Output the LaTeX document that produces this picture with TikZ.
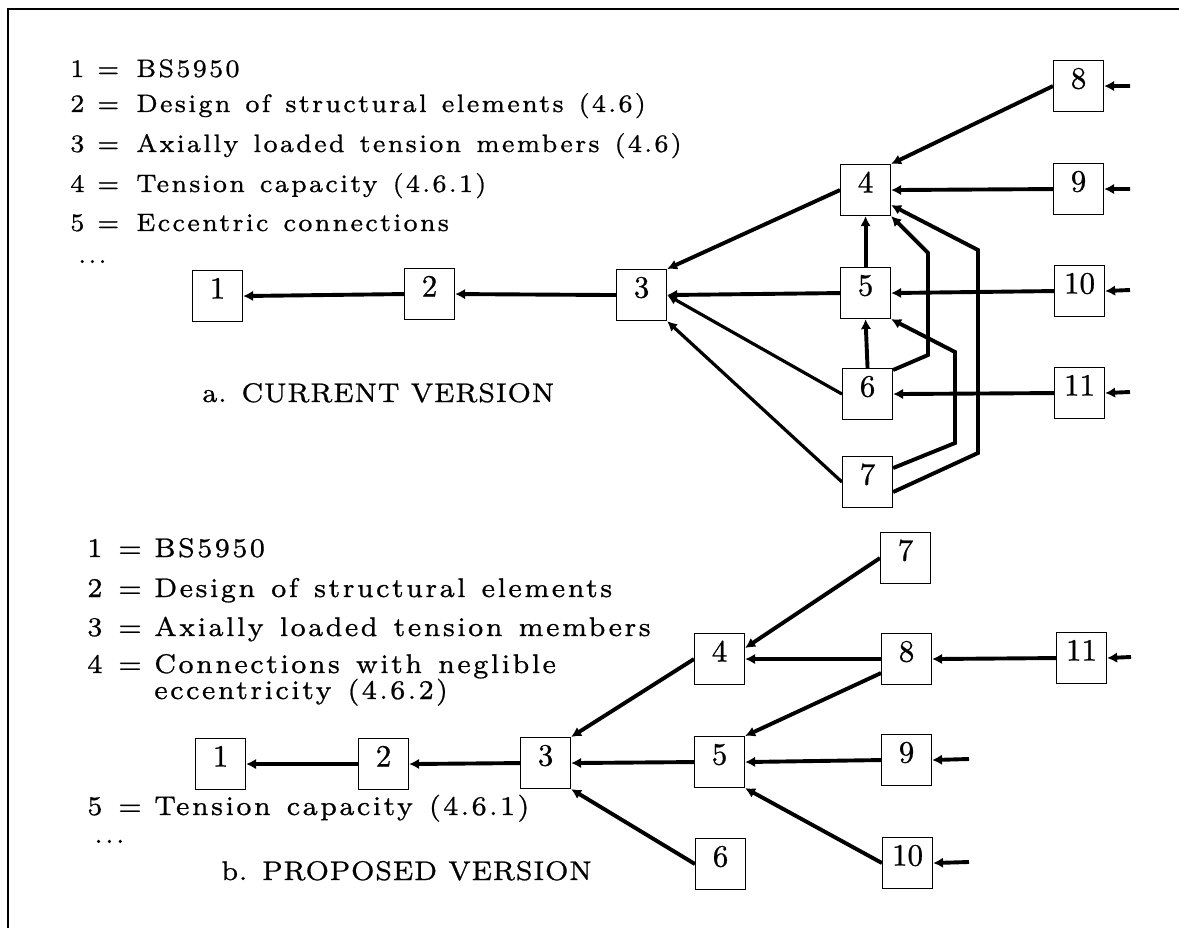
\documentclass[tikz,border=0pt]{standalone}
\usepackage{fontspec}
\newfontfamily\legfont{lmroman7-regular.otf}[LetterSpace=8,WordSpace=1.26,FakeBold=0.8]
\newfontfamily\capfont{lmroman7-regular.otf}[LetterSpace=2,FakeBold=0.8]
\newfontfamily\numfont{lmroman10-regular.otf}[FakeBold=0.8]
\newcommand\eqA[1]{\makebox[27pt][l]{#1}\makebox[39pt][l]{=}}
\newcommand\eqB[1]{\makebox[31pt][l]{#1}\makebox[36pt][l]{=}}
\usetikzlibrary{arrows.meta,calc}
\tikzset{
  box/.style={draw, line width=1.1pt, inner sep=0pt, minimum width=50pt,
    text height=28pt, text depth=23pt, anchor=north west,
    font=\numfont\fontsize{31}{34}\selectfont},
  conn/.style={line width=3.9pt, -{Latex[length=10pt,width=10.5pt]}},
  thinconn/.style={line width=3.2pt, -{Latex[length=10pt,width=10pt]}},
  frameline/.style={line width=2.5pt},
  legA/.style={anchor=base west, inner sep=0pt,
    font=\legfont\fontsize{25.2}{30}\selectfont},
  legB/.style={anchor=base west, inner sep=0pt,
    font=\legfont\fontsize{27}{32}\selectfont},
  captext/.style={anchor=base west, inner sep=0pt,
    font=\capfont\fontsize{27}{32}\selectfont}
}
\begin{document}
\begin{tikzpicture}[x=1pt,y=-1pt]
\useasboundingbox (0,0) rectangle (1179,928);
% frame
\coordinate (fbl) at (8,928);
\coordinate (ftl) at (8,9);
\coordinate (ftr) at (1179,9);
\draw[frameline] (fbl) -- (ftl) -- (ftr);

% ---------- legend a ----------
\node[legA] (la1) at (70,77) {\eqA{1}BS5950};
\node[legA] (la2) at (70,112) {\eqA{2}Design of structural elements (4.6)};
\node[legA] (la3) at (70,152) {\eqA{3}Axially loaded tension members (4.6)};
\node[legA] (la4) at (70,192) {\eqA{4}Tension capacity (4.6.1)};
\node[legA] (la5) at (70,231) {\eqA{5}Eccentric connections};
\node[legA] (la6) at (78,263) {...};
\node[captext] (capa) at (202,402) {a. CURRENT VERSION};

% ---------- graph a ----------
\node[box] (a1) at (192,270) {1};
\node[box] (a2) at (404,268) {2};
\node[box] (a3) at (616,269) {3};
\node[box] (a4) at (840,164) {4};
\node[box] (a5) at (840,267) {5};
\node[box] (a6) at (842,368) {6};
\node[box] (a7) at (842,456) {7};
\node[box] (a8) at (1053,60) {8};
\node[box] (a9) at (1053,163) {9};
\node[box] (a10) at (1054,265) {10};
\node[box] (a11) at (1054,367) {11};

\coordinate (sa8) at (1130,86);
\coordinate (sa9) at (1130,189);
\coordinate (sa10) at (1130,290);
\coordinate (sa11) at (1130,392);

\draw[conn] (a2.west) -- (a1.east);
\draw[conn] (a3.west) -- (a2.east);
\draw[conn] (a4.west) -- (a3.north east);
\draw[conn] (a5.west) -- (a3.east);
\draw[thinconn] (a6.west) -- (a3.east);
\draw[thinconn] (a7.west) -- (a3.south east);
\draw[conn] (a5.north) -- (a4.south);
\draw[conn] (a6.north) -- (a5.south);
\draw[conn] (a8.west) -- (a4.north east);
\draw[conn] (a9.west) -- (a4.east);
\draw[conn] (a10.west) -- (a5.east);
\draw[conn] (a11.west) -- (a6.east);
\draw[conn] ($(a6.north east)+(0,2)$) -- (928,355) -- (928,253) -- (a4.south east);
\draw[conn] ($(a7.east)+(0,10)$) -- (978,453) -- (978,250) -- ($(a4.east)+(0,15)$);
\draw[conn] ($(a7.east)+(0,-14)$) -- (955,443) -- (955,352) -- (a5.south east);
\draw[conn] (sa8) -- (a8.east);
\draw[conn] (sa9) -- (a9.east);
\draw[conn] (sa10) -- (a10.east);
\draw[conn] (sa11) -- (a11.east);

% ---------- legend b ----------
\node[legB] (lb1) at (87,557) {\eqB{1}BS5950};
\node[legB] (lb2) at (87,597) {\eqB{2}Design of structural elements};
\node[legB] (lb3) at (87,636) {\eqB{3}Axially loaded tension members};
\node[legB] (lb4) at (87,673) {\eqB{4}Connections with neglible};
\node[legB] (lb4b) at (154,699) {eccentricity (4.6.2)};
\node[legB] (lb5) at (87,815) {\eqB{5}Tension capacity (4.6.1)};
\node[legB] (lb6) at (94,843) {...};
\node[captext] (capb) at (221,880) {b. PROPOSED VERSION};

% ---------- graph b ----------
\node[box] (b1) at (195,738) {1};
\node[box] (b2) at (358,738) {2};
\node[box] (b3) at (520,737) {3};
\node[box] (b4) at (694,633) {4};
\node[box] (b5) at (694,736) {5};
\node[box] (b6) at (695,838) {6};
\node[box] (b7) at (880,532) {7};
\node[box] (b8) at (881,633) {8};
\node[box] (b9) at (881,734) {9};
\node[box] (b10) at (882,837) {10};
\node[box] (b11) at (1056,632) {11};

\coordinate (sb11) at (1131,657);
\coordinate (sb9) at (969,759);
\coordinate (sb10) at (969,862);

\draw[conn] (b2.west) -- (b1.east);
\draw[conn] (b3.west) -- (b2.east);
\draw[conn] (b4.west) -- (b3.north east);
\draw[conn] (b5.west) -- (b3.east);
\draw[conn] (b6.west) -- (b3.south east);
\draw[conn] (b7.west) -- ($(b4.east)+(0,-11)$);
\draw[conn] (b8.west) -- (b4.east);
\draw[conn] ($(b8.west)+(0,14)$) -- (b5.north east);
\draw[conn] (b9.west) -- (b5.east);
\draw[conn] (b10.west) -- (b5.south east);
\draw[conn] (b11.west) -- (b8.east);
\draw[conn] (sb11) -- (b11.east);
\draw[conn] (sb9) -- (b9.east);
\draw[conn] (sb10) -- (b10.east);
\end{tikzpicture}
\end{document}
